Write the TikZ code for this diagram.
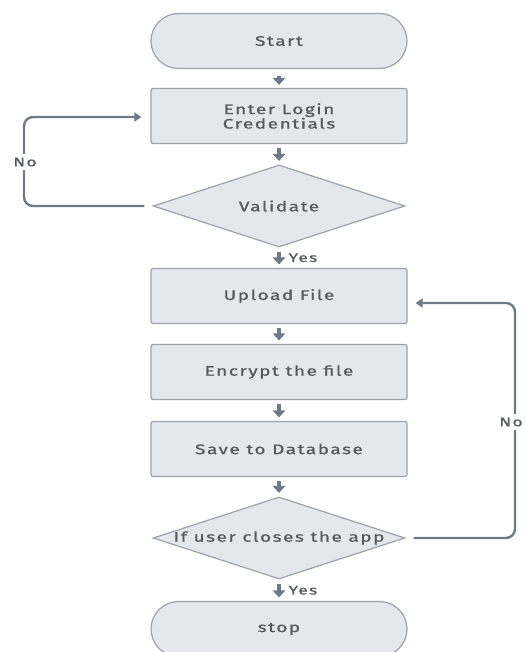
\documentclass[tikz,border=0pt]{standalone}
\usepackage{fontspec}
\setmainfont{Fira Sans}[LetterSpace=11,FakeStretch=1.38,FakeBold=0.9]
\usetikzlibrary{shapes.geometric,arrows.meta,positioning}
\definecolor{boxfill}{HTML}{E4E7EB}
\definecolor{boxline}{HTML}{9AA2AA}
\definecolor{arrowc}{HTML}{6E7A86}
\definecolor{textc}{HTML}{54595E}
\tikzset{
  base/.style={draw=boxline, fill=boxfill, line width=1.2pt, inner sep=0pt},
  procbox/.style={base, rectangle, rounded corners=2pt, minimum width=256pt, minimum height=55pt},
  termbox/.style={base, rectangle, rounded corners=27.5pt, minimum width=256pt, minimum height=55pt},
  decbox/.style={base, diamond, minimum width=252pt, minimum height=82pt},
  txt/.style={text=textc, font=\fontsize{13.8}{14.5}\selectfont, align=center},
  flow/.style={draw=arrowc, line width=3.2pt, -{Triangle[length=7pt,width=12.5pt]}, shorten <=4pt, shorten >=3.5pt},
  loop/.style={draw=arrowc, line width=2.4pt, rounded corners=9pt, -{Triangle[length=7pt,width=9pt]}},
  lab/.style={text=textc, font=\fontsize{12.5}{14}\selectfont, inner sep=1pt},
}
\begin{document}
\begin{tikzpicture}[x=1pt,y=-1pt]
\useasboundingbox (0,0) rectangle (525,652);
\node[termbox] (start) at (279,41) {};
\node[txt] (startT) at (start) {Start};
\node[procbox] (login) at (279,116) {};
\node[txt] (loginT) at (login) {Enter Login\\Credentials};
\node[decbox] (val) at (279,206) {};
\node[txt] (valT) at (val) {Validate};
\node[procbox] (upload) at (279,296) {};
\node[txt] (uploadT) at (upload) {Upload File};
\node[procbox] (enc) at (279,372) {};
\node[txt] (encT) at (enc) {Encrypt the file};
\node[procbox] (save) at (279,449) {};
\node[txt] (saveT) at (save) {Save to Database};
\node[decbox] (close) at (279,538) {};
\node[txt] (closeT) at (close) {If user closes the app};
\node[termbox] (stop) at (279,629) {};
\node[txt] (stopT) at (stop) {stop};

\draw[flow, shorten <=7pt, shorten >=3pt] (start) -- (login);
\draw[flow] (login) -- (val);
\draw[flow] (val) -- (upload) node[lab, midway, right=7pt] (yes1) {Yes};
\draw[flow] (upload) -- (enc);
\draw[flow] (enc) -- (save);
\draw[flow] (save) -- (close);
\draw[flow] (close) -- (stop) node[lab, midway, right=7pt] (yes2) {Yes};

\coordinate (l1) at (24,206);
\coordinate (l2) at (24,117);
\coordinate (r1) at (515,538);
\coordinate (r2) at (515,303);
\draw[loop, shorten <=8pt, shorten >=9pt] (val.west) -- (l1) -- (l2) -- (login.west |- l2);
\draw[loop, shorten <=8pt, shorten >=8pt] (close.east) -- (r1) -- (r2) -- (upload.east |- r2);
\node[lab, fill=white, inner ysep=4pt] (no1) at (25,162) {No};
\node[lab, fill=white, inner ysep=4pt, inner xsep=0pt] (no2) at (511,422) {No};
\end{tikzpicture}
\end{document}
